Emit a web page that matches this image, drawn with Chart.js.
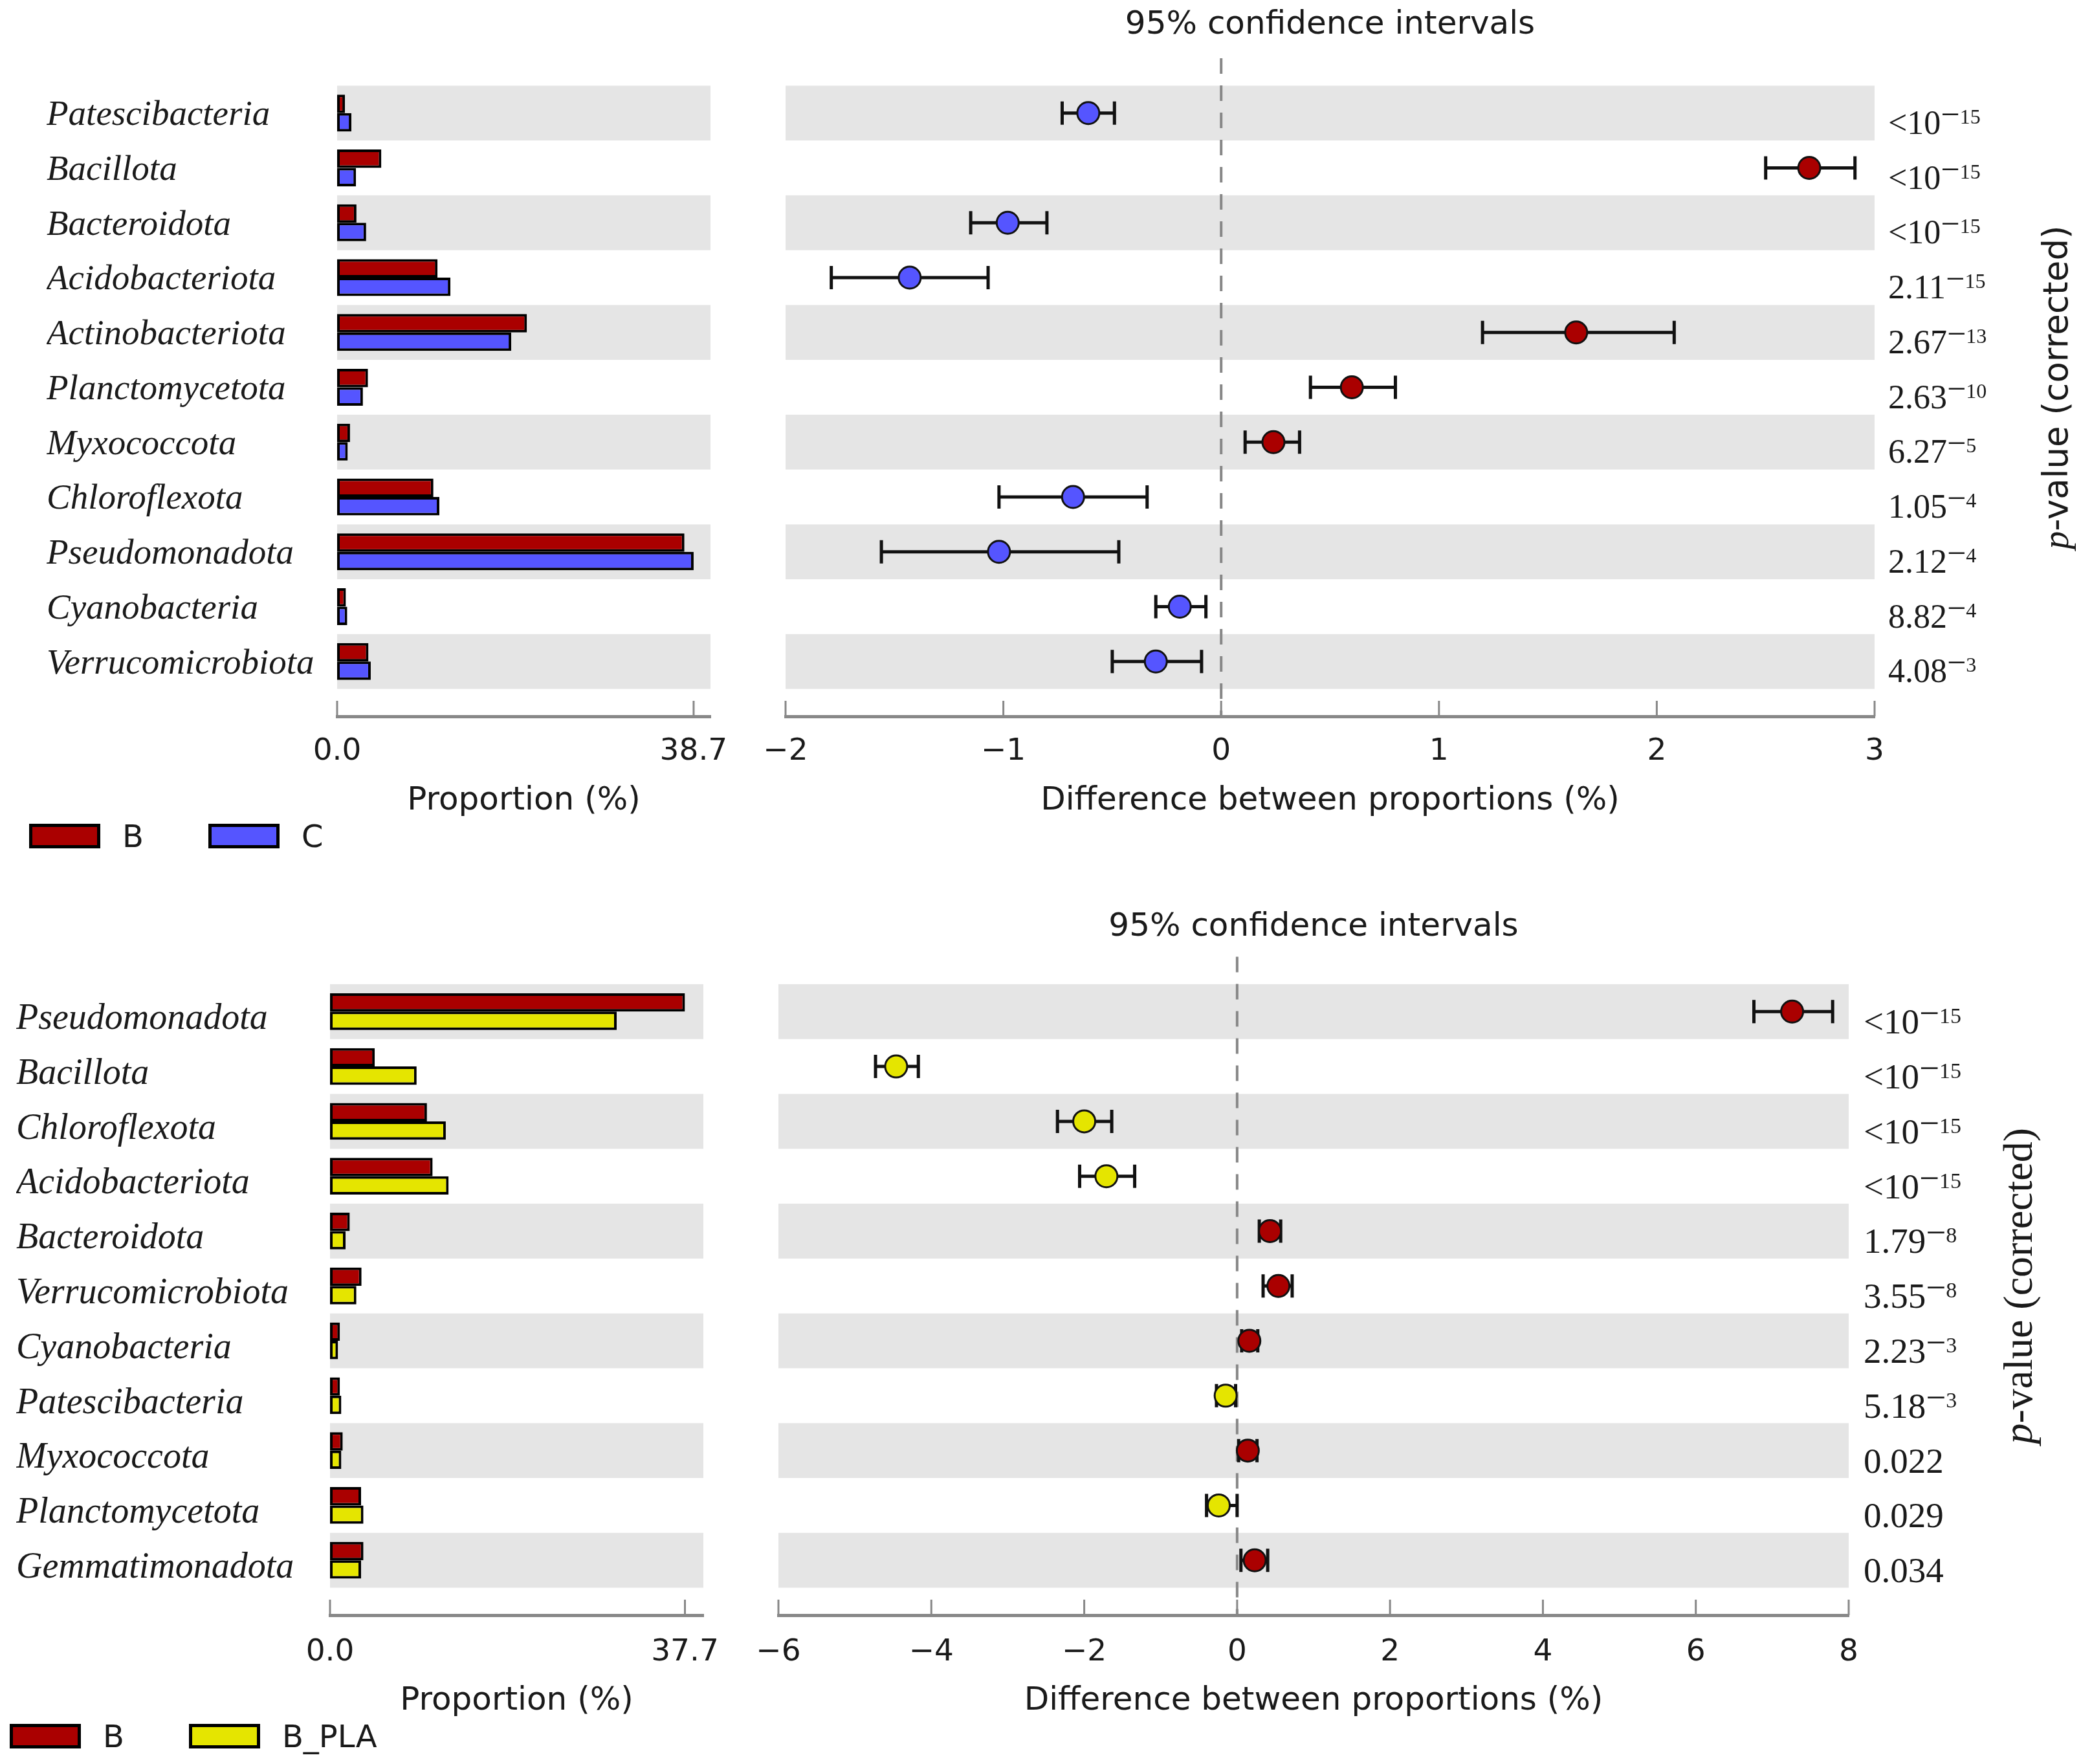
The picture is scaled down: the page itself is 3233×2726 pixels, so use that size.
<!DOCTYPE html>
<html lang="en">
<head>
<meta charset="UTF-8">
<title>Extended error bar plots: B vs C, B vs B_PLA</title>
<script src="https://cdn.jsdelivr.net/npm/chart.js@4.4.1/dist/chart.umd.min.js"></script>
<style>
  html, body { margin: 0; padding: 0; background: #fff; }
  .page { position: relative; width: 3233px; height: 2726px; background: #fff; overflow: hidden; }
  .page canvas { position: absolute; }
  .legend { position: absolute; display: flex; align-items: center; font-family: 'DejaVu Sans', sans-serif; font-size: 48px; color: #1a1a1a; }
  .legend .item { display: flex; align-items: center; margin-right: 100px; }
  .legend .swatch { width: 110px; height: 38px; box-sizing: border-box; border: 5px solid #000; margin-right: 34px; }
</style>
</head>
<body>
<div class="page">
  <canvas id="topBar" width="1150" height="1300" style="left:0;top:0;width:1150px;height:1300px"></canvas>
  <canvas id="topCI" width="2113" height="1300" style="left:1120px;top:0;width:2113px;height:1300px"></canvas>
  <canvas id="botBar" width="1150" height="1346" style="left:0;top:1380px;width:1150px;height:1346px"></canvas>
  <canvas id="botCI" width="2113" height="1346" style="left:1120px;top:1380px;width:2113px;height:1346px"></canvas>
  <div class="legend" id="legendTop" style="left:45px;top:1264px"></div>
  <div class="legend" id="legendBot" style="left:15px;top:2655px"></div>
</div>

<script>
// ---- data: B vs C ----
const taxaTop = ['Patescibacteria', 'Bacillota', 'Bacteroidota', 'Acidobacteriota', 'Actinobacteriota',
  'Planctomycetota', 'Myxococcota', 'Chloroflexota', 'Pseudomonadota', 'Cyanobacteria', 'Verrucomicrobiota'];
const seriesTop = ['B', 'C'];
const propTopB = [0.85, 4.8, 2.1, 10.9, 20.6, 3.35, 1.4, 10.45, 37.7, 0.95, 3.4];
const propTopC = [1.55, 2.05, 3.15, 12.3, 18.9, 2.8, 1.15, 11.1, 38.7, 1.1, 3.65];
const diffTop = [-0.61, 2.70, -0.98, -1.43, 1.63, 0.60, 0.24, -0.68, -1.02, -0.19, -0.30];
const loTop = [-0.73, 2.50, -1.15, -1.79, 1.20, 0.41, 0.11, -1.02, -1.56, -0.30, -0.50];
const hiTop = [-0.49, 2.91, -0.80, -1.07, 2.08, 0.80, 0.36, -0.34, -0.47, -0.07, -0.09];
const pBaseTop = ['<10', '<10', '<10', '2.11', '2.67', '2.63', '6.27', '1.05', '2.12', '8.82', '4.08'];
const pExpTop = ['\u221215', '\u221215', '\u221215', '\u221215', '\u221213', '\u221210', '\u22125', '\u22124', '\u22124', '\u22124', '\u22123'];
const propTicksTop = [0, 38.7];

// ---- data: B vs B_PLA ----
const taxaBot = ['Pseudomonadota', 'Bacillota', 'Chloroflexota', 'Acidobacteriota', 'Bacteroidota',
  'Verrucomicrobiota', 'Cyanobacteria', 'Patescibacteria', 'Myxococcota', 'Planctomycetota', 'Gemmatimonadota'];
const seriesBot = ['B', 'B_PLA'];
const propBotB = [37.7, 4.75, 10.3, 10.9, 2.1, 3.35, 1.05, 1.05, 1.35, 3.3, 3.55];
const propBotPLA = [30.45, 9.2, 12.3, 12.6, 1.65, 2.8, 0.85, 1.2, 1.2, 3.55, 3.3];
const diffBot = [7.26, -4.46, -2.00, -1.71, 0.43, 0.54, 0.16, -0.15, 0.14, -0.24, 0.23];
const loBot = [6.76, -4.73, -2.35, -2.06, 0.29, 0.34, 0.06, -0.27, 0.02, -0.40, 0.05];
const hiBot = [7.79, -4.17, -1.64, -1.34, 0.57, 0.72, 0.27, -0.02, 0.26, 0.00, 0.40];
const pBaseBot = ['<10', '<10', '<10', '<10', '1.79', '3.55', '2.23', '5.18', '0.022', '0.029', '0.034'];
const pExpBot = ['\u221215', '\u221215', '\u221215', '\u221215', '\u22128', '\u22128', '\u22123', '\u22123', '', '', ''];
const propTicksBot = [0, 37.7];

const RED = '#aa0000', BLUE = '#5555ff', YELLOW = '#e5e500';
const BAND = '#e5e5e5', AXIS = '#888888', INK = '#1a1a1a';

Chart.defaults.font.family = "'DejaVu Sans', sans-serif";
Chart.defaults.color = INK;

// grey band behind every other row
function bandsPlugin(rows) {
  return {
    id: 'bands',
    beforeDatasetsDraw(chart) {
      const { ctx, chartArea: a, scales: { y } } = chart;
      ctx.save();
      ctx.fillStyle = BAND;
      for (let i = 0; i < rows; i += 2) {
        const y0 = y.getPixelForValue(i - 0.5), y1 = y.getPixelForValue(i + 0.5);
        ctx.fillRect(a.left, Math.min(y0, y1), a.right - a.left, Math.abs(y1 - y0));
      }
      ctx.restore();
    }
  };
}

// short tick marks pointing up from the x axis line
const upTicks = {
  id: 'upTicks',
  afterDraw(chart) {
    const { ctx, chartArea: a, scales: { x } } = chart;
    ctx.save();
    ctx.strokeStyle = AXIS;
    ctx.lineWidth = 3;
    x.ticks.forEach(t => {
      const px = x.getPixelForValue(t.value);
      ctx.beginPath();
      ctx.moveTo(px, a.bottom);
      ctx.lineTo(px, a.bottom - 24);
      ctx.stroke();
    });
    ctx.restore();
  }
};

// zero line, CI whiskers, p-values and right-hand label
function ciPlugin(cfg) {
  return {
    id: 'ciDecor',
    beforeDatasetsDraw(chart) {
      const { ctx, chartArea: a, scales: { x, y } } = chart;
      const x0 = x.getPixelForValue(0);
      ctx.save();
      ctx.strokeStyle = AXIS;
      ctx.lineWidth = 4;
      ctx.setLineDash([24, 18]);
      ctx.beginPath();
      ctx.moveTo(x0, a.top);
      ctx.lineTo(x0, a.bottom);
      ctx.stroke();
      ctx.setLineDash([]);
      ctx.strokeStyle = '#111';
      ctx.lineWidth = 5;
      cfg.lo.forEach((lo, i) => {
        const py = y.getPixelForValue(i);
        const l = x.getPixelForValue(lo), r = x.getPixelForValue(cfg.hi[i]);
        ctx.beginPath();
        ctx.moveTo(l, py); ctx.lineTo(r, py);
        ctx.moveTo(l, py - 18); ctx.lineTo(l, py + 18);
        ctx.moveTo(r, py - 18); ctx.lineTo(r, py + 18);
        ctx.stroke();
      });
      ctx.restore();
    },
    afterDraw(chart) {
      const { ctx, chartArea: a, scales: { y } } = chart;
      ctx.save();
      ctx.fillStyle = INK;
      ctx.textBaseline = 'alphabetic';
      ctx.textAlign = 'left';
      const baseFont = cfg.pSize + "px 'Liberation Serif', serif";
      const supFont = Math.round(cfg.pSize * 0.62) + "px 'Liberation Serif', serif";
      cfg.pBase.forEach((txt, i) => {
        const yb = y.getPixelForValue(i) + cfg.pDrop;
        let xx = a.right + cfg.pOffset;
        ctx.font = baseFont;
        ctx.fillText(txt, xx, yb);
        xx += ctx.measureText(txt).width;
        const e = cfg.pExp[i];
        if (e) {
          ctx.fillText(e[0], xx, yb - 13);
          xx += ctx.measureText(e[0]).width;
          ctx.font = supFont;
          ctx.fillText(e.slice(1), xx, yb - 16);
        }
      });
      // rotated axis label
      const parts = cfg.label;
      let total = 0;
      parts.forEach(p => { ctx.font = p.font; total += ctx.measureText(p.text).width; });
      ctx.translate(a.right + cfg.labelOffset, (a.top + a.bottom) / 2);
      ctx.rotate(-Math.PI / 2);
      ctx.textBaseline = 'middle';
      let px = -total / 2;
      parts.forEach(p => { ctx.font = p.font; ctx.fillText(p.text, px, 0); px += ctx.measureText(p.text).width; });
      ctx.restore();
    }
  };
}

function makeBarChart(id, taxa, s1, s2, names, colors, ticks, xMax, L) {
  const rows = taxa.map((_, i) => i);
  return new Chart(document.getElementById(id), {
    type: 'bar',
    data: {
      datasets: [
        { label: names[0], data: rows.map(i => ({ x: s1[i], y: i })), backgroundColor: colors[0] },
        { label: names[1], data: rows.map(i => ({ x: s2[i], y: i })), backgroundColor: colors[1] }
      ]
    },
    options: {
      indexAxis: 'y',
      responsive: false,
      animation: false,
      devicePixelRatio: 1,
      events: [],
      layout: { padding: { left: L.left, right: L.right, top: L.top, bottom: 0 } },
      datasets: { bar: { categoryPercentage: 0.67, barPercentage: 1.0, borderColor: '#000', borderWidth: 4, borderSkipped: false } },
      scales: {
        y: {
          type: 'linear', reverse: true, min: -1, max: 11, offset: false,
          grid: { display: false }, border: { display: false },
          afterBuildTicks: s => { s.ticks = rows.map(i => ({ value: i })); },
          afterFit: s => { s.width = L.axisW; },
          ticks: {
            autoSkip: false, crossAlign: 'far', padding: 0, color: INK, labelOffset: L.nameDrop,
            font: { family: "'Liberation Serif', serif", style: 'italic', size: L.nameSize },
            callback: v => taxa[v]
          }
        },
        x: {
          type: 'linear', min: 0, max: xMax,
          grid: { display: false },
          border: { display: true, color: AXIS, width: 5 },
          afterBuildTicks: s => { s.ticks = ticks.map(v => ({ value: v })); },
          afterFit: s => { s.height = L.axisH; },
          ticks: { padding: L.tickPad, maxRotation: 0, font: { size: 47 }, callback: v => v.toFixed(1) },
          title: { display: true, text: 'Proportion (%)', font: { size: 50 }, padding: { top: 0, bottom: L.titlePad } }
        }
      },
      plugins: { legend: { display: false }, tooltip: { enabled: false } }
    },
    plugins: [bandsPlugin(taxa.length), upTicks]
  });
}

function makeCIChart(id, diff, lo, hi, pBase, pExp, colors, xr, L) {
  return new Chart(document.getElementById(id), {
    type: 'scatter',
    data: {
      datasets: [{
        data: diff.map((v, i) => ({ x: v, y: i })),
        pointRadius: 17,
        pointBorderWidth: 3,
        pointBorderColor: '#111',
        pointBackgroundColor: diff.map(d => (d > 0 ? colors[0] : colors[1]))
      }]
    },
    options: {
      responsive: false,
      animation: false,
      devicePixelRatio: 1,
      events: [],
      layout: { padding: { left: L.left, right: L.right, top: 0, bottom: 0 } },
      scales: {
        x: {
          type: 'linear', min: xr[0], max: xr[1],
          grid: { display: false },
          border: { display: true, color: AXIS, width: 5 },
          afterFit: s => { s.height = L.axisH; },
          ticks: {
            stepSize: xr[2], padding: L.tickPad, maxRotation: 0, font: { size: 47 },
            callback: v => (v < 0 ? '\u2212' + Math.abs(v) : String(v))
          },
          title: { display: true, text: 'Difference between proportions (%)', font: { size: 50 }, padding: { top: 0, bottom: L.titlePad } }
        },
        y: { type: 'linear', reverse: true, min: -1, max: 11, display: false }
      },
      plugins: {
        legend: { display: false },
        tooltip: { enabled: false },
        title: {
          display: true, text: '95% confidence intervals', fullSize: false, color: INK,
          font: { size: 50, weight: 'normal' }, padding: { top: L.headTop, bottom: L.headBottom }
        }
      }
    },
    plugins: [bandsPlugin(diff.length), ciPlugin({ lo, hi, pBase, pExp, pSize: L.pSize, pOffset: L.pOffset, pDrop: L.pDrop, labelOffset: L.labelOffset, label: L.label }), upTicks]
  });
}

function makeLegend(id, names, colors) {
  const box = document.getElementById(id);
  names.forEach((n, i) => {
    const item = document.createElement('div');
    item.className = 'item';
    const sw = document.createElement('div');
    sw.className = 'swatch';
    sw.style.background = colors[i];
    const tx = document.createElement('span');
    tx.textContent = n;
    item.appendChild(sw);
    item.appendChild(tx);
    box.appendChild(item);
  });
}

// upper panel: B vs C
makeBarChart('topBar', taxaTop, propTopB, propTopC, seriesTop, [RED, BLUE], propTicksTop, 40.53,
  { left: 72, right: 52, top: 90, axisW: 449, axisH: 193, tickPad: 18.8, titlePad: 32, nameSize: 55, nameDrop: 4 });
makeCIChart('topCI', diffTop, loTop, hiTop, pBaseTop, pExpTop, [RED, BLUE], [-2, 3, 1],
  { left: 94, right: 336, axisH: 193, tickPad: 18.8, titlePad: 32, headTop: 9, headBottom: 21,
    pSize: 52, pOffset: 21, pDrop: 32, labelOffset: 284,
    label: [{ text: 'p', font: "italic 56px 'Liberation Serif', serif" }, { text: '-value (corrected)', font: "53px 'DejaVu Sans', sans-serif" }] });
makeLegend('legendTop', seriesTop, [RED, BLUE]);

// lower panel: B vs B_PLA
makeBarChart('botBar', taxaBot, propBotB, propBotPLA, seriesBot, [RED, YELLOW], propTicksBot, 39.66,
  { left: 25, right: 63, top: 98.5, axisW: 485, axisH: 230, tickPad: 21.8, titlePad: 67, nameSize: 56, nameDrop: 12 });
makeCIChart('botCI', diffBot, loBot, hiBot, pBaseBot, pExpBot, [RED, YELLOW], [-6, 8, 2],
  { left: 83, right: 376, axisH: 230, tickPad: 21.8, titlePad: 67, headTop: 23, headBottom: 15.5,
    pSize: 55, pOffset: 23, pDrop: 34, labelOffset: 266,
    label: [{ text: 'p', font: "italic 64px 'Liberation Serif', serif" }, { text: '-value (corrected)', font: "64px 'Liberation Serif', serif" }] });
makeLegend('legendBot', seriesBot, [RED, YELLOW]);
</script>
</body>
</html>
